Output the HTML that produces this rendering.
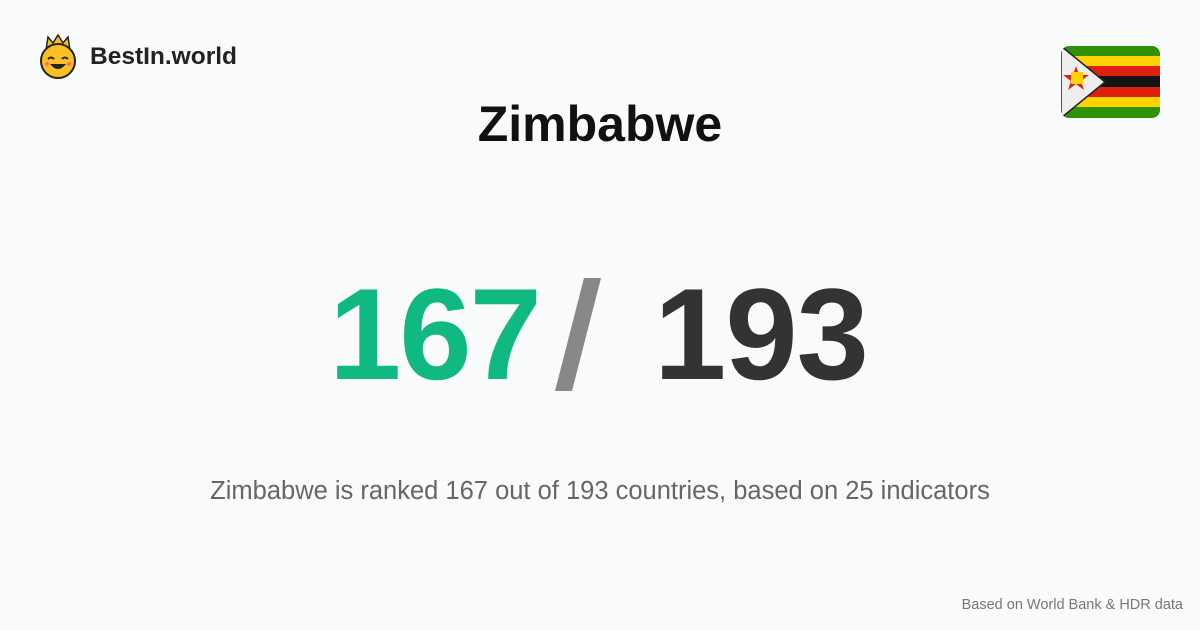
<!DOCTYPE html>
<html><head><meta charset="utf-8"><style>
body{margin:0;width:1200px;height:630px;background:#f9fafb;font-family:"Liberation Sans",sans-serif;position:relative;overflow:hidden}
.a{position:absolute;white-space:nowrap}
</style></head><body>
<div class="a" style="left:38px;top:34px;width:210px;height:46px">
<svg width="40" height="46" viewBox="0 0 40 46" style="position:absolute;left:0;top:0">
<polygon points="8,16 10,3 15,9 20,1 25,9 30,3 32,16" fill="#fbbf24" stroke="#222" stroke-width="1.5"/>
<circle cx="20" cy="27" r="17" fill="#fbbf24" stroke="#222" stroke-width="2"/>
<path d="M10 25 q3 -3 6 0 M24 25 q3 -3 6 0" stroke="#222" stroke-width="2" fill="none"/>
<path d="M12 30 q8 10 16 0 z" fill="#222"/>
<circle cx="9" cy="30" r="2" fill="#f87171"/><circle cx="31" cy="30" r="2" fill="#f87171"/>
</svg>
<div class="a" style="left:52px;top:9px;font-size:24.5px;font-weight:bold;color:#222">BestIn.world</div>
</div>
<svg class="a" style="left:1061px;top:46px" width="99" height="72" viewBox="0 0 99 72">
<defs><clipPath id="c"><rect width="99" height="72" rx="8"/></clipPath></defs>
<g clip-path="url(#c)">
<rect y="0" width="99" height="11" fill="#319208"/>
<rect y="10" width="99" height="11" fill="#ffd200"/>
<rect y="20" width="99" height="11" fill="#de2010"/>
<rect y="30" width="99" height="12" fill="#141414"/>
<rect y="41" width="99" height="11" fill="#de2010"/>
<rect y="51" width="99" height="11" fill="#ffd200"/>
<rect y="61" width="99" height="11" fill="#319208"/>
<polygon points="0,0 44,36 0,72" fill="#eeeeee" stroke="#222" stroke-width="1.5"/>
<polygon points="15,20 18,29 28,29 20,35 23,44 15,38 7,44 10,35 2,29 12,29" fill="#de2010"/>
<rect x="10" y="26" width="12" height="12" fill="#ffd200"/>
</g></svg>
<div class="a" style="left:0;width:1200px;text-align:center;top:95px;font-size:50px;font-weight:bold;color:#111">Zimbabwe</div>
<div class="a" style="left:329px;top:259px;font-size:130px;font-weight:bold;color:#10b981;letter-spacing:-2px">167</div>
<svg class="a" style="left:555px;top:278px" width="46" height="113"><polygon points="29,0 46,0 17,113 0,113" fill="#888"/></svg>
<div class="a" style="left:654px;top:259px;font-size:130px;font-weight:bold;color:#333;letter-spacing:-1px">193</div>
<div class="a" style="left:0;width:1200px;text-align:center;top:477px;font-size:25.5px;color:#666">Zimbabwe is ranked 167 out of 193 countries, based on 25 indicators</div>
<div class="a" style="right:17px;top:597px;font-size:14.5px;color:#777">Based on World Bank &amp; HDR data</div>
</body></html>
